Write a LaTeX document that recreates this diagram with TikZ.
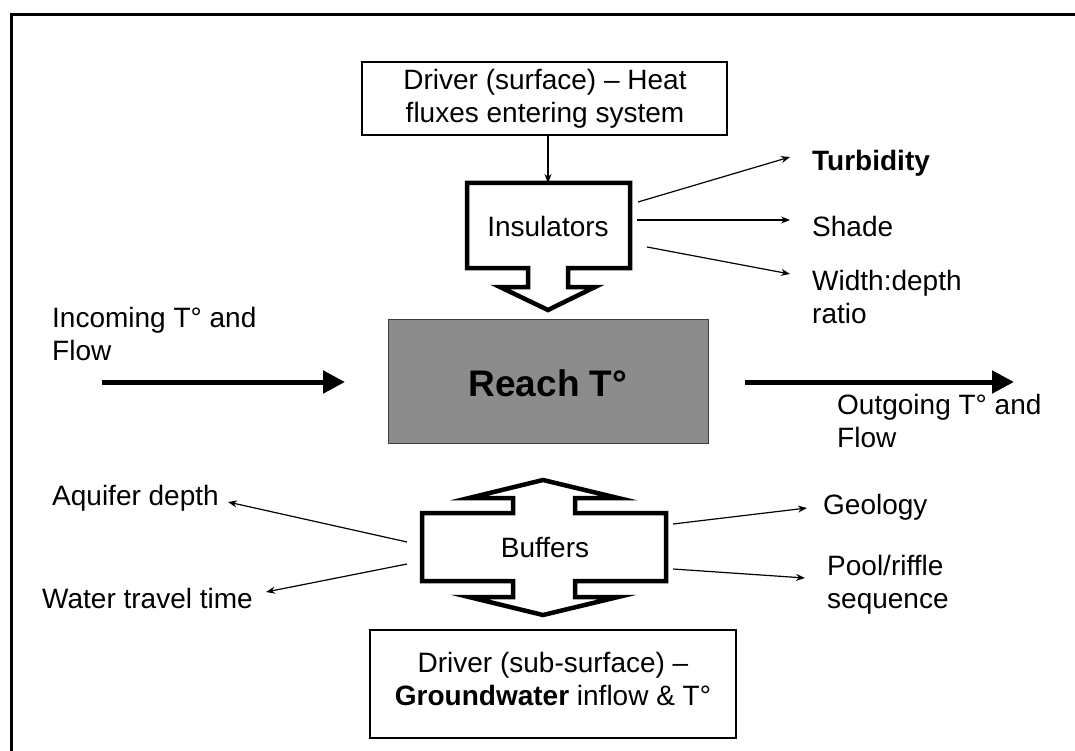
\documentclass[tikz,border=0pt]{standalone}
\usepackage{fontspec}
\setmainfont{Liberation Sans}
\usetikzlibrary{arrows.meta}
\begin{document}
\begin{tikzpicture}[x=1pt,y=-1pt,
  txt/.style={inner sep=0pt,font=\fontsize{28}{33}\selectfont,align=left},
  drvbox/.style={draw=black,line width=1.3pt,fill=white},
  thinarr/.style={line width=1.2pt,-{Stealth[length=9pt,width=7pt]}},
  thickarr/.style={line width=5pt,-{Triangle[length=22pt,width=22pt]}},
  bigshape/.style={draw=black,line width=4.5pt,fill=white,line join=miter}]
\useasboundingbox (0,0) rectangle (1075,751);
\fill[white] (0,0) rectangle (1075,751);
% frame (top and left)
\draw[line width=3pt] (11,751) -- (11,15) -- (1075,15);

% top driver box
\path[drvbox] (362,62) rectangle (727,135);
\node[txt,align=center] (drvtop) at (545,99) {Driver (surface) – Heat\\fluxes entering system};
\coordinate (drvtopb) at (548,135);

% insulators shape
\path[bigshape] (467,183) -- (630,183) -- (630,268) -- (568,268) -- (568,287) -- (595,287)
  -- (548,310) -- (500,287) -- (528,287) -- (528,268) -- (467,268) -- cycle;
\node[txt] (ins) at (548,226) {Insulators};
\coordinate (instop) at (548,183);
\draw[thinarr] (drvtopb) -- (instop);

% reach box
\path[fill={rgb,255:red,140;green,140;blue,140},draw={rgb,255:red,60;green,60;blue,60},line width=1pt] (388,319) rectangle (708,443);
\node[inner sep=0pt,font=\fontsize{37}{40}\selectfont\bfseries] (reach) at (548,383) {Reach T°};

% insulator labels
\node[txt,anchor=west] (turb) at (812,163) {\bfseries Turbidity};
\node[txt,anchor=west] (shade) at (812,226) {Shade};
\node[txt,anchor=west] (width) at (812,297) {Width:depth\\ratio};
\coordinate (i1) at (638,202);
\coordinate (i2) at (637,220);
\coordinate (i3) at (647,247);
\coordinate (t1) at (790,157);
\coordinate (t2) at (790,220);
\coordinate (t3) at (790,274);
\draw[thinarr] (i1) -- (t1);
\draw[thinarr] (i2) -- (t2);
\draw[thinarr] (i3) -- (t3);

% incoming / outgoing
\node[txt,anchor=west] (inc) at (52,334) {Incoming T° and\\Flow};
\node[txt,anchor=west] (out) at (837,421) {Outgoing T° and\\Flow};
\coordinate (ina) at (102,382);
\coordinate (inb) at (345,382);
\coordinate (outa) at (745,382);
\coordinate (outb) at (1014,382);
\draw[thickarr] (ina) -- (inb);
\draw[thickarr] (outa) -- (outb);

% buffers shape
\path[bigshape] (422,513) -- (513,513) -- (513,498) -- (469,498) -- (543,480) -- (618,498)
  -- (575,498) -- (575,513) -- (666,513) -- (666,581) -- (575,581) -- (575,597) -- (618,597)
  -- (543,615) -- (469,597) -- (513,597) -- (513,581) -- (422,581) -- cycle;
\node[txt] (buf) at (545,548) {Buffers};

% buffer labels
\node[txt,anchor=west] (aq) at (52,498) {Aquifer depth};
\node[txt,anchor=west] (wt) at (42,598) {Water travel time};
\node[txt,anchor=west] (geo) at (823,507) {Geology};
\node[txt,anchor=west] (pool) at (827,585) {Pool/riffle\\sequence};
\coordinate (b1) at (407,542);
\coordinate (b2) at (407,564);
\coordinate (b3) at (673,524);
\coordinate (b4) at (673,569);
\coordinate (e1) at (228,502);
\coordinate (e2) at (266,592);
\coordinate (e3) at (807,508);
\coordinate (e4) at (805,578);
\draw[thinarr] (b1) -- (e1);
\draw[thinarr] (b2) -- (e2);
\draw[thinarr] (b3) -- (e3);
\draw[thinarr] (b4) -- (e4);

% bottom driver box
\path[drvbox] (370,630) rectangle (736,738);
\node[txt,align=center] (drvbot) at (553,679) {Driver (sub-surface) –\\\textbf{Groundwater} inflow \& T°};
\end{tikzpicture}
\end{document}
